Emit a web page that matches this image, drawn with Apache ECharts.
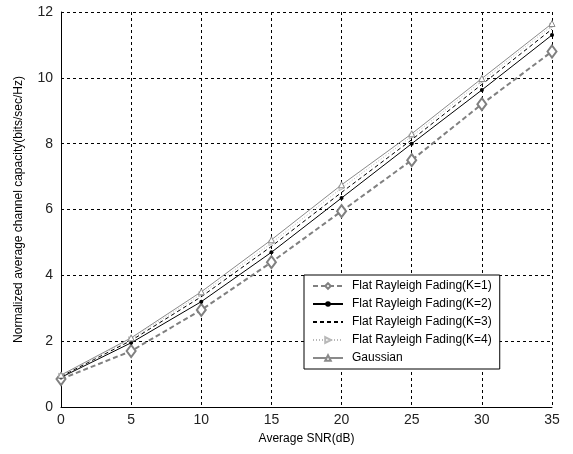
<!DOCTYPE html>
<html>
<head>
<meta charset="utf-8">
<script src="https://cdn.jsdelivr.net/npm/echarts@6/dist/echarts.min.js"></script>
<style>
  html, body { margin: 0; padding: 0; background: #fff; }
  #chart { width: 573px; height: 454px; }
</style>
</head>
<body>
<div id="chart"></div>
<script>
// ===== Data =====
const snr = [0, 5, 10, 15, 20, 25, 30, 35];
const k1 = [0.85, 1.7, 2.95, 4.4, 5.95, 7.5, 9.2, 10.8];
const k2 = [0.9, 1.95, 3.2, 4.7, 6.35, 8.0, 9.63, 11.3];
const k3 = [0.93, 2.02, 3.35, 4.88, 6.52, 8.12, 9.8, 11.48];
const k4 = [0.95, 2.06, 3.43, 4.98, 6.65, 8.22, 9.9, 11.58];
const gauss = [0.97, 2.1, 3.5, 5.08, 6.75, 8.3, 9.98, 11.65];
const names = [
  'Flat Rayleigh Fading(K=1)',
  'Flat Rayleigh Fading(K=2)',
  'Flat Rayleigh Fading(K=3)',
  'Flat Rayleigh Fading(K=4)',
  'Gaussian'
];

const pairs = arr => arr.map((v, i) => [snr[i], v]);
const FONT = 'Liberation Sans';

// ===== Chart =====
const chart = echarts.init(document.getElementById('chart'), null, { renderer: 'canvas' });

const gridLine = { show: true, lineStyle: { color: '#000', type: [3, 3], width: 1 } };

chart.setOption({
  backgroundColor: '#fff',
  animation: false,
  grid: { left: 61, right: 21, top: 12, bottom: 47 },
  legend: {
    orient: 'vertical',
    left: 304, top: 275,
    padding: [5, 8, 5, 8],
    itemGap: 6,
    itemWidth: 30, itemHeight: 7,
    backgroundColor: '#fff',
    borderColor: '#000', borderWidth: 1,
    textStyle: { fontFamily: FONT, fontSize: 12, color: '#000', padding: [0, 0, 0, 4] },
    data: [
      { name: names[0] },
      { name: names[1] },
      { name: names[2], itemStyle: { opacity: 0 } },
      { name: names[3] },
      { name: names[4] }
    ]
  },
  xAxis: {
    type: 'value', min: 0, max: 35, interval: 5,
    name: 'Average SNR(dB)', nameLocation: 'middle', nameGap: 26,
    nameTextStyle: { fontFamily: FONT, fontSize: 12, color: '#000' },
    axisLine: { show: true, onZero: false, lineStyle: { color: '#000', width: 1 } },
    axisTick: { show: false },
    axisLabel: { fontFamily: FONT, fontSize: 14, color: '#222', margin: 6 },
    splitLine: gridLine
  },
  yAxis: {
    type: 'value', min: 0, max: 12, interval: 2,
    name: 'Normalized average channel capacity(bits/sec/Hz)', nameLocation: 'middle', nameGap: 36,
    nameTextStyle: { fontFamily: FONT, fontSize: 12, color: '#000' },
    axisLine: { show: true, onZero: false, lineStyle: { color: '#000', width: 1 } },
    axisTick: { show: false },
    axisLabel: { fontFamily: FONT, fontSize: 14, color: '#222', margin: 8 },
    splitLine: gridLine
  },
  series: [
    {
      name: names[0], type: 'line', data: pairs(k1),
      symbol: 'diamond', symbolSize: [9, 12],
      itemStyle: { color: '#fff', borderColor: '#808080', borderWidth: 2 },
      lineStyle: { color: '#808080', width: 2, type: [5, 3] }, z: 2
    },
    {
      name: names[1], type: 'line', data: pairs(k2),
      symbol: 'circle', symbolSize: 4,
      itemStyle: { color: '#000', borderColor: '#000', borderWidth: 0 },
      lineStyle: { color: '#000', width: 1 }, z: 3
    },
    {
      name: names[2], type: 'line', data: pairs(k3),
      symbol: 'none',
      itemStyle: { color: '#000' },
      lineStyle: { color: '#000', width: 1, type: [4, 3] }, z: 3
    },
    {
      name: names[3], type: 'line', data: pairs(k4),
      symbol: 'triangle', symbolSize: 5, symbolRotate: -90,
      itemStyle: { color: '#fff', borderColor: '#b8b8b8', borderWidth: 1 },
      lineStyle: { color: '#b8b8b8', width: 1, type: [1, 2] }, z: 3
    },
    {
      name: names[4], type: 'line', data: pairs(gauss),
      symbol: 'triangle', symbolSize: 6,
      itemStyle: { color: '#fff', borderColor: '#8a8a8a', borderWidth: 1 },
      lineStyle: { color: '#8a8a8a', width: 1 }, z: 3
    }
  ]
});
</script>
</body>
</html>
